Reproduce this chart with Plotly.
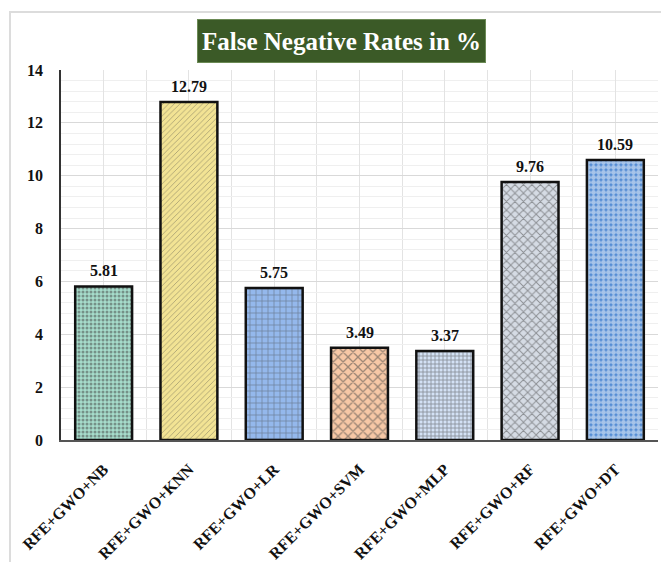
import plotly.graph_objects as go

# Models and their false negative rates (%)
models = ["RFE+GWO+NB", "RFE+GWO+KNN", "RFE+GWO+LR", "RFE+GWO+SVM",
          "RFE+GWO+MLP", "RFE+GWO+RF", "RFE+GWO+DT"]
fnr = [5.81, 12.79, 5.75, 3.49, 3.37, 9.76, 10.59]
y_ticks = [0, 2, 4, 6, 8, 10, 12, 14]

# Fill styles per bar: base colour, pattern colour, pattern shape
fill_colors = ["#a6dccb", "#f2e394", "#94b8ec", "#f7c8a6", "#d3e1f5", "#d5dbe4", "#4d88d2"]
pattern_colors = ["#6a9cc4", "#c2b483", "#f4f8fe", "#8ea3c3", "#5e90d6", "#8fb1dc", "#ffffff"]
pattern_shapes = [".", "/", "+", "x", "+", "x", "."]
pattern_sizes = [4, 4, 6, 7, 4, 6, 5]
pattern_solidity = [0.45, 0.18, 0.22, 0.35, 0.4, 0.3, 0.75]

SERIF = "Liberation Serif, Times New Roman, serif"

x_pos = list(range(len(models)))

fig = go.Figure()
fig.add_trace(go.Bar(
    x=x_pos,
    y=fnr,
    width=0.667,
    marker=dict(
        color=fill_colors,
        line=dict(color="#111111", width=2.5),
        pattern=dict(shape=pattern_shapes, fgcolor=pattern_colors,
                     size=pattern_sizes, solidity=pattern_solidity,
                     fillmode="overlay"),
    ),
    hoverinfo="x+y",
    showlegend=False,
))

# Value labels above each bar
for xi, v in zip(x_pos, fnr):
    fig.add_annotation(x=xi, y=v, text=f"<b>{v:.2f}</b>", showarrow=False,
                       yanchor="bottom", yshift=5,
                       font=dict(family=SERIF, size=16, color="#111111"))

# Title box
fig.add_annotation(xref="paper", yref="paper", x=0.47, y=1.078,
                   text="<b>False Negative Rates in %</b>", showarrow=False,
                   xanchor="center", yanchor="middle",
                   width=285, height=40,
                   bgcolor="#3b5a27", bordercolor="#6b8a55", borderwidth=1,
                   font=dict(family=SERIF, size=25, color="#ffffff"))

# Light outer frame around the chart
fig.add_shape(type="rect", xref="paper", yref="paper",
              x0=-0.0854, x1=1.2, y0=-0.40, y1=1.157,
              line=dict(color="#dcdcdc", width=2), layer="below")

fig.update_layout(
    width=661, height=562,
    margin=dict(l=61, r=3, t=70, b=122, autoexpand=False),
    paper_bgcolor="white",
    plot_bgcolor="white",
    xaxis=dict(
        range=[-0.5, 6.5], automargin=False,
        tickmode="array", tickvals=x_pos, ticktext=[f"<b>{m}</b>" for m in models],
        tickangle=-45,
        tickfont=dict(family=SERIF, size=16, color="#111111"),
        showgrid=True, gridcolor="#e3e3e3", gridwidth=1,
        minor=dict(dtick=0.5, tick0=-0.5, showgrid=True, gridcolor="#e3e3e3", gridwidth=1),
        showline=True, linecolor="#555555", linewidth=1.5,
        zeroline=False, ticks="", ticklabelstandoff=12,
    ),
    yaxis=dict(
        range=[0, 14], automargin=False,
        tickmode="array", tickvals=y_ticks, ticktext=[f"<b>{t}</b>" for t in y_ticks],
        tickfont=dict(family=SERIF, size=16, color="#111111"),
        showgrid=True, gridcolor="#d9d9d9", gridwidth=1,
        minor=dict(dtick=0.4, tick0=0, showgrid=True, gridcolor="#efefef", gridwidth=1),
        showline=True, linecolor="#333333", linewidth=1.5,
        zeroline=False, ticks="", ticklabelstandoff=13,
    ),
)

fig.write_html("out.html")
